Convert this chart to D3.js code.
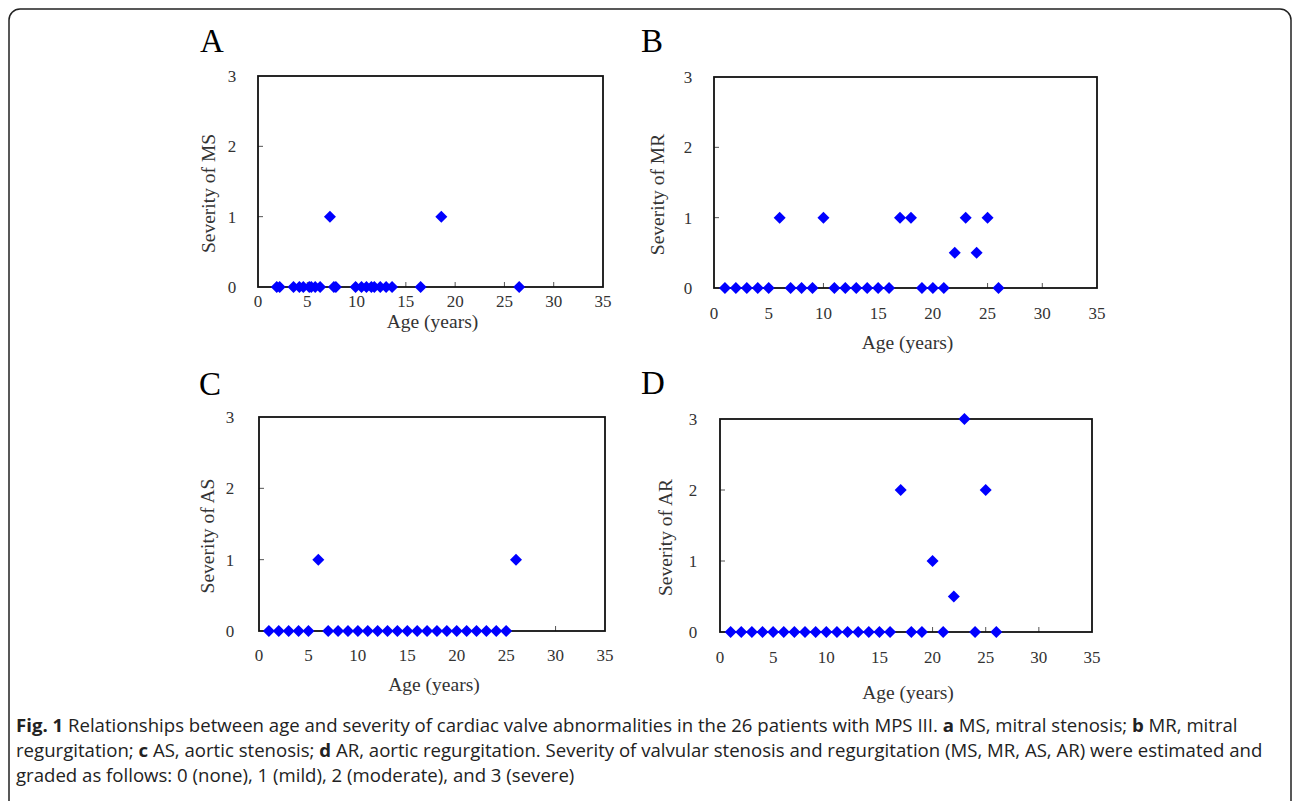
<!DOCTYPE html>
<html>
<head>
<meta charset="utf-8">
<script src="https://cdn.jsdelivr.net/npm/d3@7"></script>
<style>
body { margin: 0; background: #fff; }
svg text { font-family: "Liberation Serif", "DejaVu Serif", serif; }
</style>
</head>
<body>
<svg id="fig" width="1292" height="801"></svg>
<script>
// data
var xTicks = [0, 5, 10, 15, 20, 25, 30, 35];
var yTicks = [0, 1, 2, 3];

var ageMS = [1.9, 2.2, 3.6, 4.2, 4.6, 5.2, 5.4, 5.8, 6.3, 7.3, 7.7, 7.9, 9.9, 10.5, 11.0, 11.5, 11.8, 12.4, 13.0, 13.6, 16.5, 18.6, 26.5];
var sevMS = [0, 0, 0, 0, 0, 0, 0, 0, 0, 1, 0, 0, 0, 0, 0, 0, 0, 0, 0, 0, 0, 1, 0];

var agePts = [1, 2, 3, 4, 5, 6, 7, 8, 9, 10, 11, 12, 13, 14, 15, 16, 17, 18, 19, 20, 21, 22, 23, 24, 25, 26];
var sevMR = [0, 0, 0, 0, 0, 1, 0, 0, 0, 1, 0, 0, 0, 0, 0, 0, 1, 1, 0, 0, 0, 0.5, 1, 0.5, 1, 0];
var sevAS = [0, 0, 0, 0, 0, 1, 0, 0, 0, 0, 0, 0, 0, 0, 0, 0, 0, 0, 0, 0, 0, 0, 0, 0, 0, 1];
var sevAR = [0, 0, 0, 0, 0, 0, 0, 0, 0, 0, 0, 0, 0, 0, 0, 0, 2, 0, 0, 1, 0, 0.5, 3, 0, 2, 0];

var captionLines = [
	[["Fig. 1", true], [" Relationships between age and severity of cardiac valve abnormalities in the 26 patients with MPS III. ", false], ["a", true], [" MS, mitral stenosis; ", false], ["b", true], [" MR, mitral", false]],
	[["regurgitation; ", false], ["c", true], [" AS, aortic stenosis; ", false], ["d", true], [" AR, aortic regurgitation. Severity of valvular stenosis and regurgitation (MS, MR, AS, AR) were estimated and", false]],
	[["graded as follows: 0 (none), 1 (mild), 2 (moderate), and 3 (severe)", false]]
];

var svg = d3.select("#fig");

// outer frame
svg.append("rect").attr("x", 9).attr("y", 9).attr("width", 1282).attr("height", 820)
	.attr("rx", 11).attr("ry", 11)
	.attr("fill", "none").attr("stroke", "#222").attr("stroke-width", 1.5);

var panels = [
	{ letter: "A", lx: 200, ly: 52, x0: 258, x1: 603, y0: 76, y1: 287, ages: ageMS, sev: sevMS, yLab: "Severity of MS", yLabX: 208, xLabY: 328, xTickOff: 20, yTickOff: 26 },
	{ letter: "B", lx: 641, ly: 52, x0: 714, x1: 1097, y0: 77, y1: 288, ages: agePts, sev: sevMR, yLab: "Severity of MR", yLabX: 657, xLabY: 349, xTickOff: 31, yTickOff: 26 },
	{ letter: "C", lx: 199, ly: 395, x0: 259, x1: 605, y0: 417, y1: 631, ages: agePts, sev: sevAS, yLab: "Severity of AS", yLabX: 207, xLabY: 691, xTickOff: 30, yTickOff: 29 },
	{ letter: "D", lx: 641, ly: 394, x0: 720, x1: 1092, y0: 419, y1: 632, ages: agePts, sev: sevAR, yLab: "Severity of AR", yLabX: 665, xLabY: 699, xTickOff: 31, yTickOff: 27 }
];

function diamond(r) {
	return "M0," + (-r) + "L" + r + ",0L0," + r + "L" + (-r) + ",0Z";
}

panels.forEach(function(p) {
	var x = d3.scaleLinear().domain([0, 35]).range([p.x0, p.x1]);
	var y = d3.scaleLinear().domain([0, 3]).range([p.y1, p.y0]);
	var g = svg.append("g");

	g.append("text").attr("x", p.lx).attr("y", p.ly)
		.attr("font-size", 33).attr("fill", "#000").text(p.letter);

	// inward ticks
	g.selectAll("line.xt").data(xTicks.slice(1, -1)).enter().append("line")
		.attr("x1", function(d){ return x(d); }).attr("x2", function(d){ return x(d); })
		.attr("y1", p.y1).attr("y2", p.y1 - 5)
		.attr("stroke", "#555").attr("stroke-width", 1);
	g.selectAll("line.yt").data(yTicks.slice(1, -1)).enter().append("line")
		.attr("x1", p.x0).attr("x2", p.x0 + 5)
		.attr("y1", function(d){ return y(d); }).attr("y2", function(d){ return y(d); })
		.attr("stroke", "#555").attr("stroke-width", 1);

	g.append("rect").attr("x", p.x0).attr("y", p.y0)
		.attr("width", p.x1 - p.x0).attr("height", p.y1 - p.y0)
		.attr("fill", "none").attr("stroke", "#111").attr("stroke-width", 1.8);

	g.selectAll("text.xl").data(xTicks).enter().append("text")
		.attr("x", function(d){ return x(d); }).attr("y", p.y1 + p.xTickOff)
		.attr("text-anchor", "middle").attr("font-size", 17).attr("fill", "#333")
		.text(function(d){ return d; });
	g.selectAll("text.yl").data(yTicks).enter().append("text")
		.attr("x", p.x0 - p.yTickOff).attr("y", function(d){ return y(d) + 6; })
		.attr("text-anchor", "middle").attr("font-size", 17).attr("fill", "#333")
		.text(function(d){ return d; });

	g.append("text").attr("x", (p.x0 + p.x1) / 2 + 2).attr("y", p.xLabY)
		.attr("text-anchor", "middle").attr("font-size", 19.5).attr("fill", "#333")
		.text("Age (years)");
	g.append("text")
		.attr("transform", "translate(" + p.yLabX + "," + ((p.y0 + p.y1) / 2 + 12) + ") rotate(-90)")
		.attr("dy", "0.35em")
		.attr("text-anchor", "middle").attr("font-size", 19.5).attr("fill", "#333")
		.text(p.yLab);

	g.selectAll("path.pt").data(p.ages).enter().append("path")
		.attr("d", diamond(6))
		.attr("transform", function(d, i){ return "translate(" + x(d) + "," + y(p.sev[i]) + ")"; })
		.attr("fill", "#0000ff");
});

// caption
var cap = svg.append("g");
captionLines.forEach(function(line, i) {
	var t = cap.append("text").attr("x", 16).attr("y", 732 + i * 25)
		.attr("font-size", 18.6).attr("fill", "#222")
		.style("font-family", "'Open Sans', 'Noto Sans', sans-serif");
	line.forEach(function(seg) {
		t.append("tspan").attr("font-weight", seg[1] ? "bold" : "normal").text(seg[0]);
	});
});
</script>
</body>
</html>
